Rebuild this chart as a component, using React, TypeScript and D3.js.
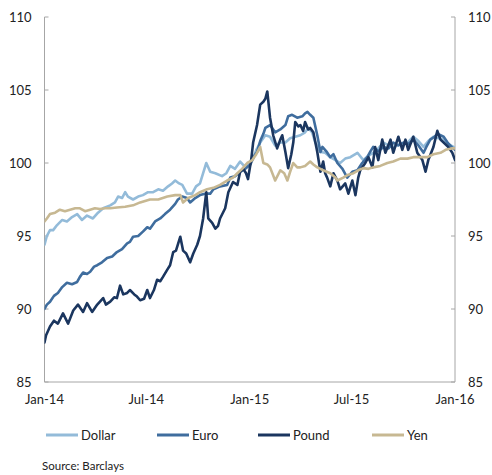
import React from "react";
import * as d3 from "d3";

// weeks since 2014-01-01, index value
const dollarData: [number, number][] = [[0,94.4],[0.6,95.0],[1.4,95.4],[2.2,95.4],[3.2,95.75],[4.5,96.1],[5.7,96.0],[7.0,96.3],[8.3,96.5],[9.5,96.1],[10.8,96.4],[12.3,96.2],[13.6,96.6],[14.9,96.9],[16.7,97.1],[17.9,97.3],[18.7,97.7],[19.7,97.6],[20.5,98.0],[21.2,97.7],[22.5,97.5],[23.8,97.7],[25.0,97.8],[26.3,98.0],[27.6,98.0],[28.9,98.2],[30.1,98.1],[31.4,98.4],[32.4,98.6],[33.2,98.8],[34.2,98.6],[35.0,98.5],[36.2,97.9],[37.5,97.9],[38.5,98.4],[39.5,98.6],[40.3,99.3],[41.1,100.0],[42.1,99.4],[43.4,99.3],[45.1,99.1],[46.2,99.3],[47.2,99.8],[48.4,99.6],[49.7,100.1],[50.7,99.8],[51.5,99.9],[53.0,100.3],[53.8,100.9],[54.8,101.4],[56.1,101.9],[57.3,101.8],[58.6,101.2],[59.9,101.4],[61.2,101.4],[62.4,101.7],[63.7,101.8],[65.0,101.9],[66.2,102.1],[67.0,102.4],[68.0,102.1],[68.8,101.4],[70.1,100.75],[71.3,100.7],[72.6,100.4],[73.9,100.2],[75.1,100.0],[76.4,100.3],[77.7,100.4],[79.5,100.7],[81.0,100.2],[82.3,100.5],[83.5,100.7],[84.8,101.0],[86.1,101.4],[87.4,101.2],[88.6,101.1],[90.4,101.3],[92.2,101.4],[93.7,101.8],[95.0,101.5],[96.3,101.1],[97.5,101.5],[98.8,101.8],[100.1,101.7],[101.4,101.6],[102.6,101.3],[103.9,101.1],[104.3,101.0]];

const euroData: [number, number][] = [[0,90.0],[0.6,90.3],[1.4,90.5],[2.4,90.9],[3.4,91.1],[4.5,91.5],[5.7,91.8],[7.0,91.7],[8.3,91.85],[9.0,92.2],[9.8,92.5],[10.8,92.4],[11.6,92.55],[12.6,92.9],[13.4,93.0],[14.6,93.2],[15.9,93.5],[17.2,93.6],[18.4,93.9],[19.7,94.1],[21.0,94.5],[21.7,94.6],[22.5,94.95],[23.8,95.0],[25.0,95.3],[26.1,95.6],[26.8,95.5],[28.1,96.0],[29.4,96.2],[30.6,96.5],[31.9,96.8],[33.2,97.2],[33.9,97.5],[35.0,97.7],[36.2,97.6],[37.0,97.3],[38.3,97.6],[39.5,97.8],[40.8,97.9],[42.1,97.9],[42.9,98.2],[44.6,98.4],[46.4,98.5],[47.2,99.0],[48.4,99.1],[49.7,99.4],[51.0,99.6],[52.3,99.9],[53.3,100.5],[54.0,100.75],[54.8,101.5],[55.6,102.0],[56.1,102.4],[57.3,102.6],[58.1,102.3],[58.6,102.1],[59.9,102.3],[61.2,102.6],[61.9,103.2],[62.9,103.3],[64.2,103.1],[65.5,103.2],[66.2,103.4],[66.8,103.5],[67.5,103.3],[68.3,103.1],[68.8,102.5],[69.3,101.9],[70.1,100.75],[70.6,101.1],[71.6,100.8],[72.6,100.4],[73.4,100.6],[74.4,100.0],[75.7,99.6],[76.9,99.0],[78.2,99.4],[79.5,99.5],[80.7,100.0],[82.0,100.4],[82.8,100.8],[83.5,101.1],[84.8,100.8],[86.1,101.1],[87.4,101.0],[88.6,101.4],[89.9,101.2],[91.2,101.4],[92.4,101.3],[93.7,101.6],[95.0,101.2],[96.3,100.7],[97.0,101.1],[98.0,101.6],[99.1,101.8],[99.8,102.0],[100.6,101.9],[101.4,101.8],[102.4,101.4],[103.4,101.1],[104.3,100.9]];

const poundData: [number, number][] = [[0,87.7],[0.4,88.2],[1.4,88.8],[2.4,89.2],[3.4,89.0],[4.7,89.7],[6.0,89.0],[7.3,89.9],[8.5,90.3],[9.8,89.8],[10.8,90.4],[12.1,89.8],[13.4,90.3],[14.9,90.75],[15.6,90.3],[16.7,90.5],[17.7,90.8],[18.4,90.75],[19.2,91.6],[20.0,91.0],[21.0,91.1],[21.7,91.3],[22.8,91.0],[23.5,90.85],[24.3,90.6],[25.3,90.7],[26.1,91.3],[26.8,90.75],[27.8,91.3],[28.6,92.0],[29.4,91.9],[30.1,92.2],[31.2,92.7],[31.9,93.0],[32.7,93.9],[33.4,94.0],[34.5,94.95],[35.2,94.0],[36.0,93.8],[37.0,93.2],[37.8,93.8],[38.8,94.4],[39.5,95.0],[40.3,96.2],[41.1,98.0],[41.6,96.2],[42.6,95.9],[43.4,95.5],[44.1,95.7],[44.6,96.2],[45.9,96.9],[46.7,98.0],[47.9,98.7],[49.0,98.5],[49.7,99.4],[50.5,99.6],[51.2,99.3],[51.7,98.9],[52.5,100.2],[53.0,101.4],[54.0,102.6],[54.8,104.0],[55.6,104.2],[56.1,104.4],[56.6,104.9],[57.3,103.1],[58.1,101.9],[59.1,101.0],[59.9,101.6],[60.4,101.9],[61.2,100.75],[61.9,99.65],[62.7,100.6],[63.2,101.4],[63.7,102.8],[64.5,102.5],[65.0,102.6],[65.7,102.2],[66.2,102.8],[67.0,102.3],[67.5,102.4],[68.3,102.1],[69.3,100.75],[70.1,99.4],[70.8,100.1],[71.3,99.3],[71.8,99.0],[72.6,98.4],[73.4,99.3],[74.4,98.8],[75.1,98.2],[76.4,98.6],[77.2,97.9],[78.2,98.8],[79.0,97.8],[79.7,99.0],[80.2,99.5],[81.5,100.0],[82.3,100.4],[83.3,99.7],[84.0,101.1],[84.8,100.2],[85.8,101.6],[86.6,100.7],[87.9,101.6],[88.6,100.7],[89.9,101.8],[90.9,100.9],[91.7,101.6],[92.4,100.9],[93.7,101.8],[94.7,100.7],[96.0,100.2],[96.8,99.4],[97.5,100.2],[98.8,101.1],[99.8,102.2],[100.6,101.6],[101.4,101.4],[102.6,101.1],[103.6,100.7],[104.3,100.2]];

const yenData: [number, number][] = [[0,96.0],[0.6,96.2],[1.4,96.5],[2.7,96.6],[3.9,96.8],[5.2,96.7],[6.5,96.8],[7.8,96.9],[9.0,96.9],[10.3,96.7],[11.6,96.8],[12.8,96.9],[14.1,96.85],[15.4,96.9],[16.7,96.9],[18.4,96.95],[20.5,97.0],[22.5,97.1],[24.3,97.3],[26.8,97.5],[28.9,97.5],[31.2,97.7],[33.2,97.8],[34.5,97.8],[35.2,97.3],[36.5,97.6],[38.3,97.8],[39.5,98.0],[41.3,98.2],[42.9,98.3],[44.6,98.5],[46.4,98.8],[47.9,99.0],[49.0,99.3],[50.2,99.6],[51.5,100.0],[52.8,100.2],[53.8,100.6],[54.8,101.1],[55.6,100.0],[56.6,99.9],[57.3,99.7],[58.6,98.8],[59.9,99.5],[60.9,99.3],[61.7,98.8],[62.4,99.4],[63.2,100.0],[64.2,99.7],[65.0,99.7],[66.2,99.8],[67.5,100.1],[68.3,99.9],[69.3,99.7],[70.1,99.6],[70.8,99.5],[72.6,99.3],[73.9,99.0],[74.4,98.8],[75.9,99.0],[77.2,99.2],[78.5,99.3],[79.7,99.5],[81.0,99.65],[82.3,99.6],[83.5,99.7],[85.3,99.8],[87.1,100.0],[88.6,100.1],[90.4,100.3],[92.2,100.3],[93.7,100.4],[95.5,100.4],[97.3,100.4],[98.8,100.6],[100.6,100.7],[101.9,100.9],[103.4,101.0],[104.3,101.0]];

const seriesNames = ["Dollar", "Euro", "Pound", "Yen"];
const seriesColors = ["#93bbd9", "#3f6d9e", "#1b365f", "#c7b892"];
const yTicks = [85, 90, 95, 100, 105, 110];
const xTickDates = ["2014-01-01", "2014-07-01", "2015-01-01", "2015-07-01", "2016-01-01"];
const xTickLabels = ["Jan-14", "Jul-14", "Jan-15", "Jul-15", "Jan-16"];
const sourceText = "Source: Barclays";

const W = 492, H = 475;
const left = 44.5, right = 455, top = 17, bottom = 382;
const FONT = "Lato, 'Open Sans', sans-serif";

const start = new Date(2014, 0, 1);
const toDate = (w: number) => new Date(start.getTime() + w * 7 * 86400000);
const parse = d3.timeParse("%Y-%m-%d");

export default function App() {
  const x = d3.scaleTime().domain([new Date(2014, 0, 1), new Date(2016, 0, 1)]).range([left, right]);
  const y = d3.scaleLinear().domain([85, 110]).range([bottom, top]);
  const line = d3.line<[number, number]>()
    .x((d) => x(toDate(d[0])))
    .y((d) => y(d[1]));
  const all = [dollarData, euroData, poundData, yenData];
  const axisColor = "#a6a6a6";
  const legendX = [46, 157, 258, 372];

  return (
    <svg width={W} height={H} style={{ position: "absolute", left: 0, top: 0, background: "#fff" }} fontFamily={FONT}>
      <defs>
        <clipPath id="plot">
          <rect x={left} y={0} width={right - left} height={bottom} />
        </clipPath>
      </defs>
      {/* axes */}
      <line x1={left} x2={left} y1={top} y2={bottom} stroke={axisColor} strokeWidth={1} />
      <line x1={right} x2={right} y1={top} y2={bottom} stroke={axisColor} strokeWidth={1} />
      <line x1={left} x2={right} y1={bottom} y2={bottom} stroke={axisColor} strokeWidth={1} />
      {yTicks.map((t) => (
        <g key={t}>
          <line x1={left} x2={left + 4} y1={y(t)} y2={y(t)} stroke={axisColor} />
          <line x1={right - 4} x2={right} y1={y(t)} y2={y(t)} stroke={axisColor} />
          <text x={left - 13} y={y(t)} dy="0.35em" textAnchor="end" fontSize={13} fill="#222">{t}</text>
          <text x={right + 13} y={y(t)} dy="0.35em" textAnchor="start" fontSize={13} fill="#222">{t}</text>
        </g>
      ))}
      {xTickDates.map((d, i) => (
        <text key={d} x={x(parse(d) as Date)} y={404} textAnchor="middle" fontSize={13} fill="#222">{xTickLabels[i]}</text>
      ))}
      <g clipPath="url(#plot)">
        {all.map((data, i) => (
          <path key={i} d={line(data) || ""} fill="none" stroke={seriesColors[i]} strokeWidth={2.6} strokeLinejoin="round" strokeLinecap="round" />
        ))}
      </g>
      {seriesNames.map((n, i) => (
        <g key={n}>
          <line x1={legendX[i]} x2={legendX[i] + 32} y1={435} y2={435} stroke={seriesColors[i]} strokeWidth={3} />
          <text x={legendX[i] + 35} y={439.5} fontSize={13} fill="#222">{n}</text>
        </g>
      ))}
      <text x={42} y={470} fontSize={11.5} fill="#222">{sourceText}</text>
    </svg>
  );
}
